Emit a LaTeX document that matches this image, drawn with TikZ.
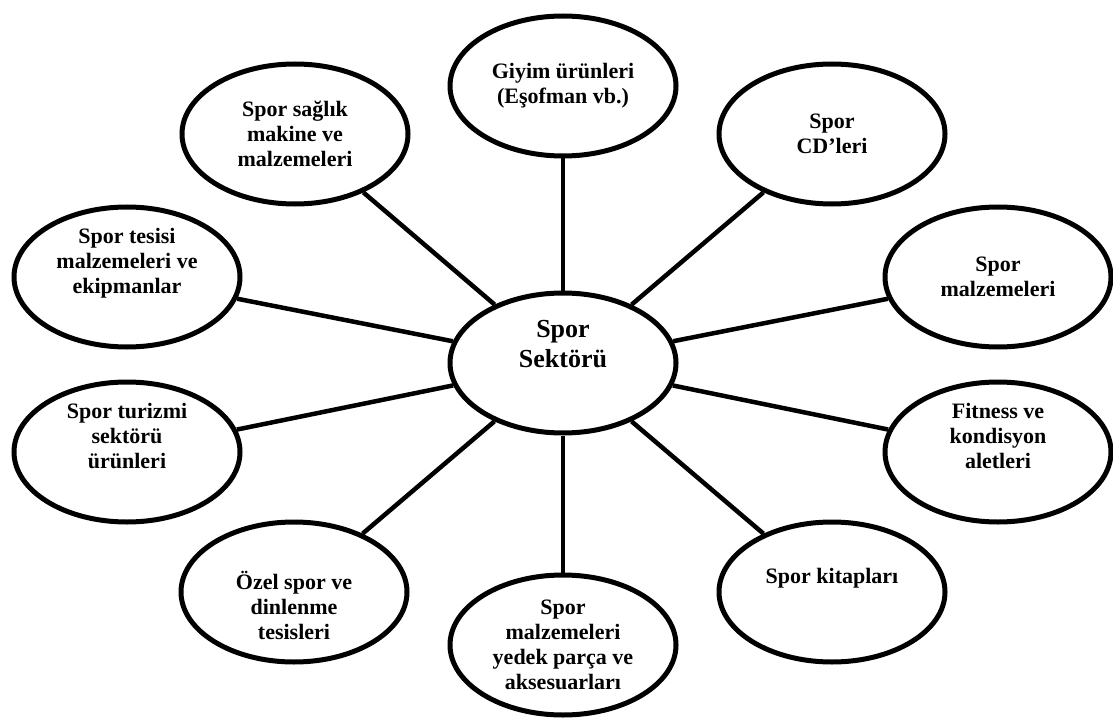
\documentclass[tikz,border=0pt]{standalone}
\usepackage{fontspec}
\setmainfont{Liberation Serif}
\usetikzlibrary{shapes.geometric}

\tikzset{
  leaf/.style={ellipse,draw,line width=5pt,inner sep=0pt,align=center,
    minimum width=226pt,minimum height=140pt,
    font=\bfseries\fontsize{22}{25}\selectfont},
  hub/.style={leaf,font=\bfseries\fontsize{26}{30}\selectfont},
  spoke/.style={line width=4.5pt}
}

\begin{document}
\begin{tikzpicture}[x=1pt,y=-1pt]
\useasboundingbox (0,0) rectangle (1113,722);
\node[hub] (c) at (563,363) {Spor\\Sektörü\\\strut};
\node[leaf] (giy) at (563,86) {Giyim ürünleri\\(Eşofman vb.)};
\node[leaf] (cd) at (832,134) {Spor\\CD’leri};
\node[leaf] (mal) at (998,277) {Spor\\malzemeleri};
\node[leaf] (fit) at (998,452) {Fitness ve\\kondisyon\\aletleri\\\strut};
\node[leaf] (kit) at (832,592) {Spor kitapları\\\strut};
\node[leaf] (yed) at (563,645) {Spor\\malzemeleri\\yedek parça ve\\aksesuarları};
\node[leaf] (oze) at (294,592) {\strut\\Özel spor ve\\dinlenme\\tesisleri};
\node[leaf] (tur) at (127,452) {Spor turizmi\\sektörü\\ürünleri\\\strut};
\node[leaf] (tes) at (127,277) {Spor tesisi\\malzemeleri ve\\ekipmanlar\\\strut};
\node[leaf] (sag) at (295,134) {Spor sağlık\\makine ve\\malzemeleri};
\foreach \n in {giy,cd,mal,fit,kit,yed,oze,tur,tes,sag}
  \draw[spoke] (c) -- (\n);
\end{tikzpicture}
\end{document}
